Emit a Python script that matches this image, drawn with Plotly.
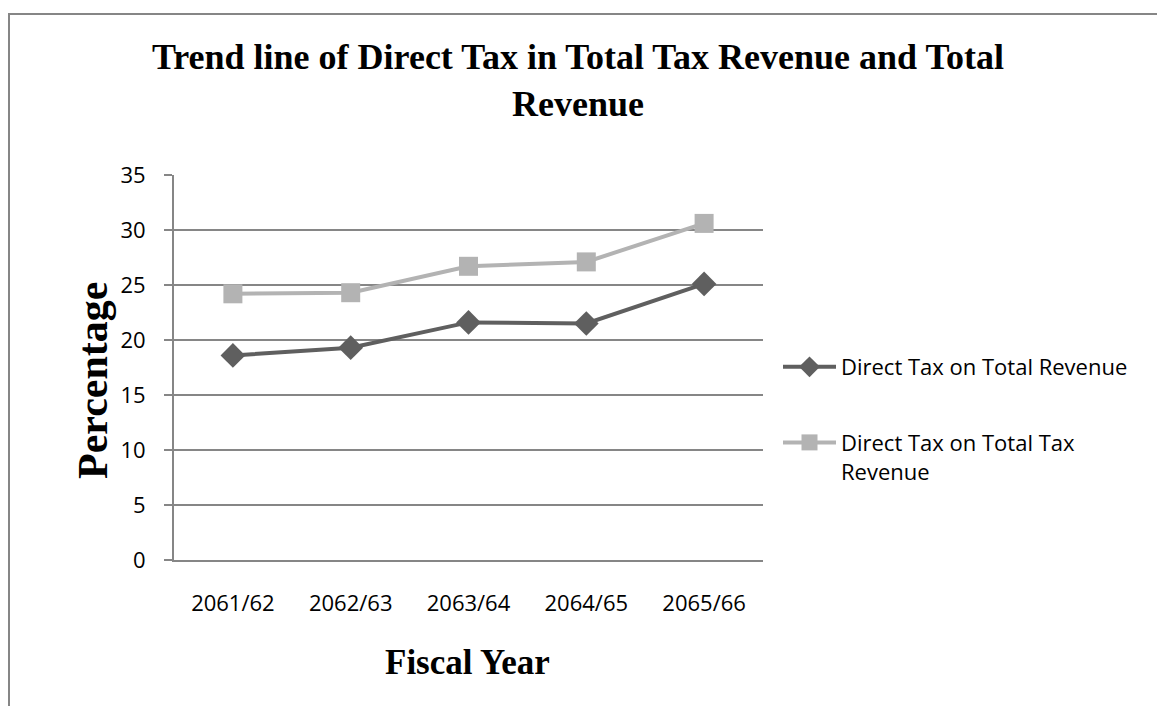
import plotly.graph_objects as go

years = ["2061/62", "2062/63", "2063/64", "2064/65", "2065/66"]
dt_total_revenue = [18.6, 19.3, 21.6, 21.5, 25.1]
dt_total_tax_revenue = [24.2, 24.3, 26.7, 27.1, 30.6]
y_ticks = [0, 5, 10, 15, 20, 25, 30, 35]

W, H = 1157, 706
L, R, T, B = 174, 763, 175, 560
pw, ph = R - L, B - T

def px(x):
    return (x - L) / pw

def py(y):
    return (B - y) / ph

grid = "#868686"
tick_font = dict(family="Open Sans", size=22, color="#000000")
serif = "Liberation Serif"

fig = go.Figure()
fig.add_trace(go.Scatter(
    x=years, y=dt_total_revenue, name="Direct Tax on Total Revenue",
    mode="lines+markers", legendgroup="a",
    line=dict(color="#5f5f5f", width=4),
    marker=dict(symbol="diamond", size=19, color="#5f5f5f"),
))
fig.add_trace(go.Scatter(
    x=years, y=dt_total_tax_revenue, name="Direct Tax on Total Tax<br>Revenue",
    mode="lines+markers", legendgroup="b",
    line=dict(color="#b3b3b3", width=4),
    marker=dict(symbol="square", size=19, color="#b3b3b3"),
))

fig.update_layout(
    width=W, height=H,
    margin=dict(l=L, r=W - R, t=T, b=H - B, pad=0),
    paper_bgcolor="white", plot_bgcolor="white",
    title=dict(
        text="<b>Trend line of Direct Tax in Total Tax Revenue and Total<br>Revenue</b>",
        x=578 / W, xanchor="center", y=1 - 69 / H, yanchor="middle",
        font=dict(family=serif, size=36, color="#000000"),
    ),
    xaxis=dict(
        type="category", range=[-0.5, 4.5],
        showgrid=False, showline=True, linecolor=grid, linewidth=2,
        ticks="", tickfont=tick_font, ticklabelstandoff=23,
        zeroline=False,
    ),
    yaxis=dict(
        range=[0, 35], tickvals=y_ticks, showgrid=True, gridcolor=grid, gridwidth=2,
        showline=True, linecolor=grid, linewidth=2,
        ticks="outside", ticklen=8, tickcolor=grid, tickwidth=2,
        tickfont=tick_font, ticklabelstandoff=14, zeroline=False,
    ),
    legend=dict(
        x=px(778), y=py(346), xanchor="left", yanchor="top",
        font=dict(family="Open Sans", size=22, color="#000000"),
        tracegroupgap=44, traceorder="grouped", valign="top",
        itemwidth=53,
        bgcolor="rgba(0,0,0,0)",
    ),
    showlegend=True,
    annotations=[
        dict(text="<b>Fiscal Year</b>", x=px(467), y=py(662), xref="paper", yref="paper",
             showarrow=False, xanchor="center", yanchor="middle",
             font=dict(family=serif, size=35, color="#000000")),
        dict(text="<b>Percentage</b>", x=px(93), y=py(381), xref="paper", yref="paper",
             showarrow=False, xanchor="center", yanchor="middle", textangle=-90,
             font=dict(family=serif, size=42, color="#000000")),
    ],
    shapes=[
        dict(type="path", xref="paper", yref="paper",
             path=f"M {px(9)},{py(712)} L {px(9)},{py(14)} L {px(1165)},{py(14)}",
             line=dict(color=grid, width=2)),
    ],
)

fig.write_html("out.html")
